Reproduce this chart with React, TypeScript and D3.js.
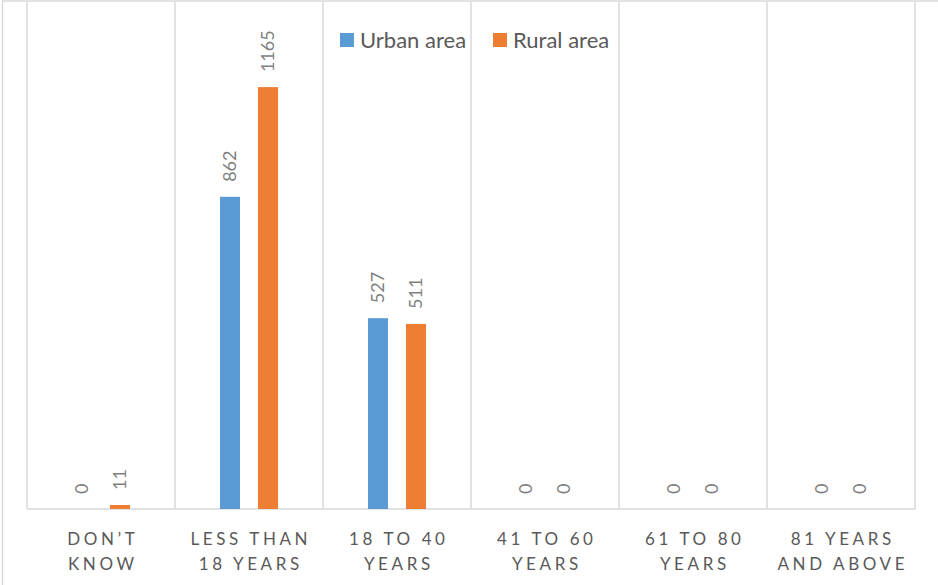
import React from "react";
import * as d3 from "d3";

// Respondents by age group, urban vs rural
const categories: string[][] = [
  ["DON\u2019T", "KNOW"],
  ["LESS THAN", "18 YEARS"],
  ["18 TO 40", "YEARS"],
  ["41 TO 60", "YEARS"],
  ["61 TO 80", "YEARS"],
  ["81 YEARS", "AND ABOVE"],
];
const seriesNames = ["Urban area", "Rural area"];
const urban = [0, 862, 527, 0, 0, 0];
const rural = [11, 1165, 511, 0, 0, 0];
const colors = ["#5b9bd5", "#ed7d31"];

const W = 938;
const H = 585;
const FONT = "Lato, 'Open Sans', sans-serif";
const GRID = "#d9d9d9";
const TEXT = "#595959";

export default function App() {
  const left = 27;
  const right = 915;
  const top = 2;
  const bottom = 509;

  const x = d3
    .scaleBand<number>()
    .domain(d3.range(categories.length))
    .range([left, right])
    .paddingInner(0)
    .paddingOuter(0);
  const y = d3.scaleLinear().domain([0, 1400]).range([bottom, top]);

  const barW = 20;
  const offsets = [-19, 19];
  const series = [urban, rural];
  const bw = x.bandwidth();

  return (
    <div style={{ position: "absolute", left: 0, top: 0 }}>
      <svg width={W} height={H} style={{ display: "block", background: "#fff" }}>
        {/* chart frame */}
        <line x1={2.5} x2={2.5} y1={1} y2={H} stroke={GRID} strokeWidth={1.5} />
        <line x1={2} x2={W} y1={1} y2={1} stroke={GRID} strokeWidth={1.5} />

        {/* category gridlines */}
        {d3.range(categories.length + 1).map((i) => {
          const gx = left + i * bw;
          return (
            <line key={i} x1={gx} x2={gx} y1={top} y2={bottom} stroke={GRID} strokeWidth={1.5} />
          );
        })}
        <line x1={left} x2={right} y1={bottom} y2={bottom} stroke={GRID} strokeWidth={1.5} />

        {/* bars and value labels */}
        {series.map((vals, s) =>
          vals.map((v, i) => {
            const cx = (x(i) as number) + bw / 2 + offsets[s];
            const yTop = y(v);
            return (
              <g key={`${s}-${i}`}>
                {v > 0 && (
                  <rect x={cx - barW / 2} y={yTop} width={barW} height={bottom - yTop} fill={colors[s]} />
                )}
                <text
                  transform={`translate(${cx},${yTop - 15}) rotate(-90)`}
                  dy="0.35em"
                  textAnchor="start"
                  fontFamily={FONT}
                  fontSize={18}
                  fill="#7f7f7f"
                >
                  {v}
                </text>
              </g>
            );
          })
        )}

        {/* category labels */}
        {categories.map((lines, i) => {
          const cx = (x(i) as number) + bw / 2;
          return (
            <text
              key={i}
              textAnchor="middle"
              fontFamily={FONT}
              fontSize={17}
              fill={TEXT}
              letterSpacing={3.6}
            >
              {lines.map((ln, j) => (
                <tspan key={j} x={cx + 1.8} y={545 + j * 25}>
                  {ln}
                </tspan>
              ))}
            </text>
          );
        })}

        {/* legend */}
        {seriesNames.map((name, s) => {
          const lx = [340, 493][s];
          return (
            <g key={name}>
              <rect x={lx} y={33} width={14} height={14} fill={colors[s]} />
              <text x={lx + 20} y={47.5} fontFamily={FONT} fontSize={22} fill={TEXT}>
                {name}
              </text>
            </g>
          );
        })}
      </svg>
    </div>
  );
}
